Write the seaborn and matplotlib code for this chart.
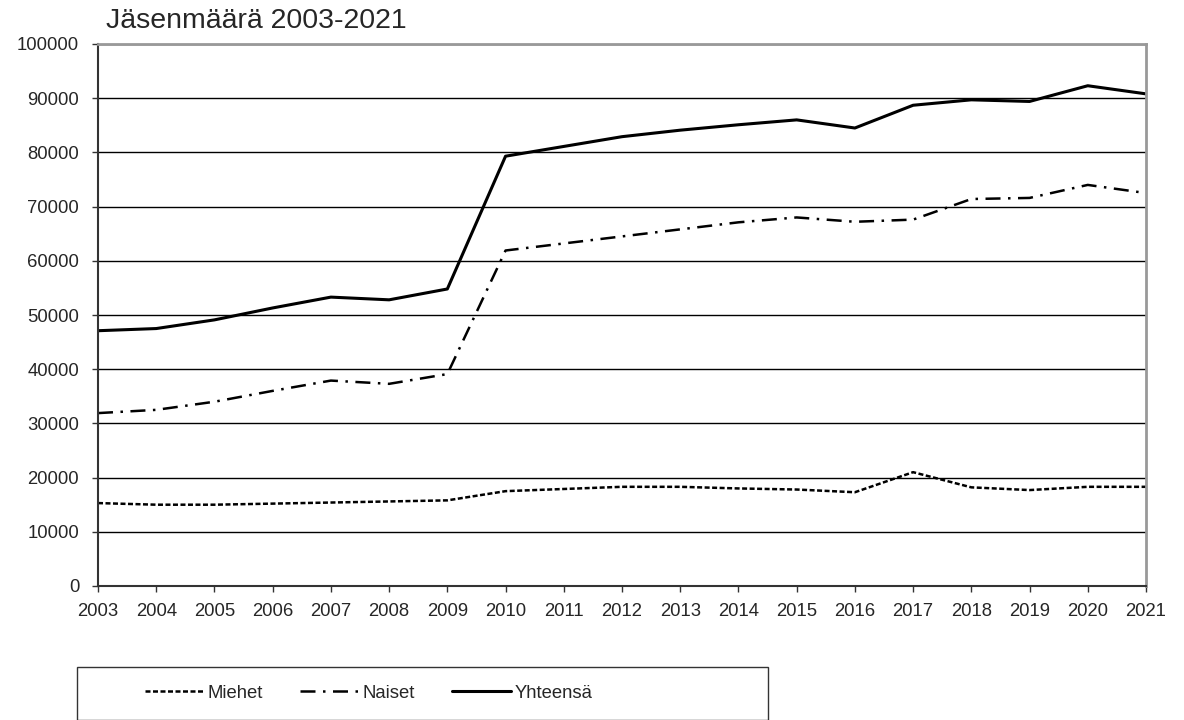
import numpy as np
import pandas as pd
import seaborn as sns
import matplotlib.pyplot as plt
from matplotlib.patches import Rectangle

# --- data ---
vuodet = list(range(2003, 2022))
miehet = [15300, 15000, 15000, 15200, 15400, 15600, 15800, 17500, 17900, 18300,
          18300, 18000, 17800, 17300, 21000, 18200, 17700, 18300, 18300]
naiset = [31900, 32500, 34000, 36000, 37900, 37300, 39100, 61900, 63200, 64500,
          65800, 67100, 68000, 67200, 67600, 71400, 71600, 74000, 72500]
yhteensa = [47100, 47500, 49100, 51300, 53300, 52800, 54800, 79300, 81100, 82900,
            84100, 85100, 86000, 84500, 88700, 89700, 89400, 92300, 90800]

sarjat = {
    'Miehet': (miehet, (0, (2, 1)), 1.8),
    'Naiset': (naiset, (0, (6, 3, 1, 3)), 1.8),
    'Yhteensä': (yhteensa, '-', 2.2),
}

sns.set_theme(style='white')
plt.rcParams['font.family'] = ['Liberation Sans', 'DejaVu Sans']

fig = plt.figure(figsize=(11.84, 7.2), dpi=100)
ax = fig.add_axes([98 / 1184, 1 - 586 / 720, (1146 - 98) / 1184, (586 - 44) / 720])

for nimi, (arvot, tyyli, lw) in sarjat.items():
    df = pd.DataFrame({'vuosi': vuodet, 'jasenet': arvot})
    sns.lineplot(data=df, x='vuosi', y='jasenet', ax=ax, color='black',
                 linestyle=tyyli, linewidth=lw, label=nimi)

ax.set_xlim(2003, 2021)
ax.set_ylim(0, 100000)
ax.set_xticks(vuodet)
ax.set_yticks(np.arange(0, 100001, 10000))
ax.set_xlabel('')
ax.set_ylabel('')
ax.yaxis.grid(True, color='black', linewidth=1.0)
ax.set_axisbelow(True)
ax.tick_params(axis='both', labelsize=13.3, direction='out', length=4.5,
               width=1.0, color='#333333', left=True, bottom=True)
ax.tick_params(axis='y', pad=9)
ax.tick_params(axis='x', pad=8)
for s in ['left', 'bottom']:
    ax.spines[s].set_color('#333333')
    ax.spines[s].set_linewidth(1.5)
for s in ['top', 'right']:
    ax.spines[s].set_color('#999999')
    ax.spines[s].set_linewidth(2.0)

fig.text(106 / 1184, 1 - 21 / 720, 'Jäsenmäärä 2003-2021', fontsize=20.5,
         ha='left', va='center')

# legend box like the original
ax.get_legend().remove()
fig.patches.append(Rectangle((77 / 1184, 0), (768 - 77) / 1184, (720 - 667) / 720,
                             transform=fig.transFigure, fill=False,
                             edgecolor='#333333', linewidth=1.0))
handles, labels = ax.get_legend_handles_labels()
fig.legend(handles, labels, ncol=3, frameon=False, fontsize=13.3,
           loc='center left', bbox_to_anchor=(128 / 1184, 1 - 693 / 720),
           handlelength=3.2, handletextpad=0.2, columnspacing=2.0)

fig.savefig('out.png', dpi=100)
